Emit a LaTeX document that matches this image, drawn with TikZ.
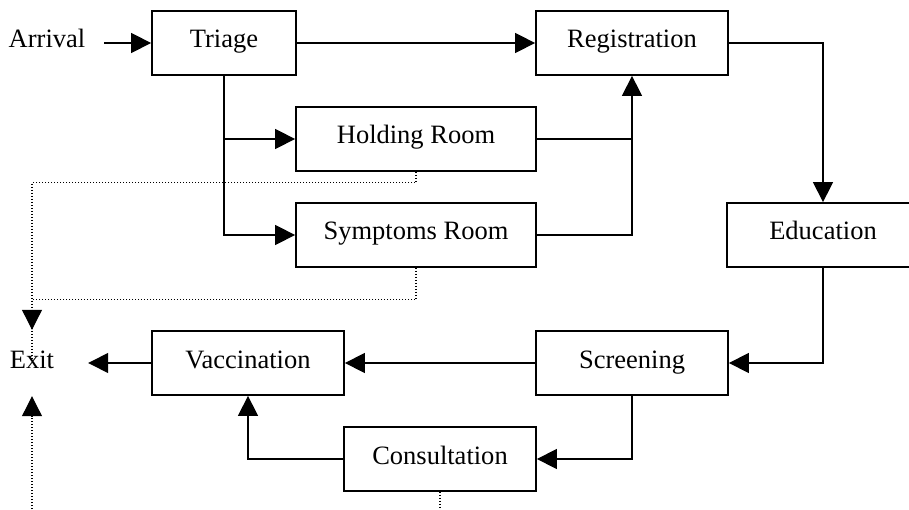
\documentclass[tikz,border=0pt]{standalone}
\usepackage{fontspec}
\setmainfont{Liberation Serif}
\usetikzlibrary{arrows.meta}
\begin{document}
\begin{tikzpicture}[x=1pt,y=-1pt,
  box/.style={draw,line width=1.8pt,rectangle,minimum height=64pt,inner sep=0pt,text height=16.5pt,text depth=6.5pt,font=\fontsize{26.5}{30}\selectfont},
  lbl/.style={inner sep=0pt,text height=16.5pt,text depth=6.5pt,font=\fontsize{26.5}{30}\selectfont},
  conn/.style={line width=1.4pt,-{Triangle[length=20pt,width=20pt]}},
  plain/.style={line width=1.4pt},
  dotline/.style={line width=1.1pt,dash pattern=on 1.4pt off 1.6pt},
  dotarr/.style={dotline,-{Triangle[length=20pt,width=20pt]}}]
\useasboundingbox (0,0) rectangle (909,510);
\node[lbl,minimum width=114pt] (arr) at (47,43) {Arrival};
\node[box,minimum width=144pt] (tri) at (224,43) {Triage};
\node[box,minimum width=192pt] (reg) at (632,43) {Registration};
\node[box,minimum width=240pt] (hold) at (416,139) {Holding Room};
\node[box,minimum width=240pt] (sym) at (416,235) {Symptoms Room};
\node[box,minimum width=192pt] (edu) at (823,235) {Education};
\node[box,minimum width=192pt] (scr) at (632,363) {Screening};
\node[box,minimum width=192pt] (vac) at (248,363) {Vaccination};
\node[box,minimum width=192pt] (cons) at (440,459) {Consultation};
\node[lbl,minimum width=112pt,minimum height=66pt] (exit) at (32,363) {Exit};
\coordinate (bot) at (32,512);
\coordinate (cbot) at (440,512);
% solid connectors
\draw[conn] (arr.east) -- (tri.west);
\draw[conn] (tri.east) -- (reg.west);
\draw[conn] (tri.south) |- (hold.west);
\draw[conn] (tri.south) |- (sym.west);
\draw[plain] (hold.east) -- (hold.east -| reg.south);
\draw[conn] (sym.east) -| (reg.south);
\draw[conn] (reg.east) -| (edu.north);
\draw[conn] (edu.south) |- (scr.east);
\draw[conn] (scr.west) -- (vac.east);
\draw[conn] (scr.south) |- (cons.east);
\draw[conn] (cons.west) -| (vac.south);
\draw[conn] (vac.west) -- (exit.east);
% dotted connectors
\draw[dotarr] (hold.south) -- ++(0,11) -| (exit.north);
\draw[dotline] (sym.south) -- ++(0,32) -| ([yshift=-30pt]exit.north);
\draw[dotarr] (bot) -- (exit.south);
\draw[dotline] (cons.south) -- (cbot);
\end{tikzpicture}
\end{document}
